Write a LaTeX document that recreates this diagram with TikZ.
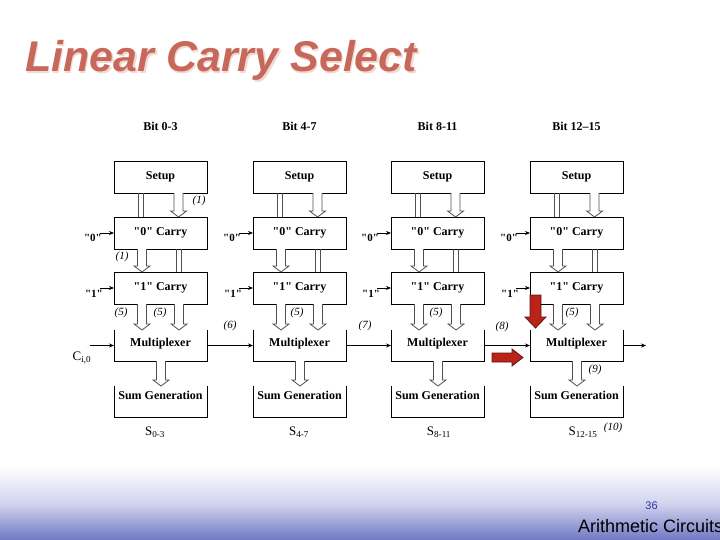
\documentclass[tikz,border=0pt]{standalone}
\usepackage{fontspec}
\setmainfont{Liberation Serif}
\newfontfamily\qfont{Liberation Serif}
\newfontfamily\arialf{Liberation Sans}
\usetikzlibrary{calc,arrows.meta}
\definecolor{titlec}{RGB}{200,104,90}
\definecolor{shadowc}{RGB}{240,218,212}
\definecolor{redarr}{RGB}{185,35,25}
\definecolor{redline}{RGB}{105,20,15}
\definecolor{footblue}{RGB}{112,120,196}
\definecolor{footmid}{RGB}{210,213,238}
\definecolor{numblue}{RGB}{50,50,170}
\definecolor{dgray}{RGB}{80,80,80}
\newcommand\qq{{\qfont\char34}}
\newcommand\harrow[3]{%
  \draw[harr] let \p1=(#1.south west), \p2=(#3.north) in
  (\x1+#2pt-4.5pt,\y1) -- (\x1+#2pt-4.5pt,\y2+6pt) -- (\x1+#2pt-8pt,\y2+6pt) --
  (\x1+#2pt,\y2) -- (\x1+#2pt+8pt,\y2+6pt) -- (\x1+#2pt+4.5pt,\y2+6pt) --
  (\x1+#2pt+4.5pt,\y1);}
\begin{document}
\begin{tikzpicture}[x=1pt,y=-1pt,
  box/.style={draw, line width=0.9pt, minimum width=93pt, minimum height=32pt, inner sep=0pt, outer sep=0pt},
  obox/.style={minimum width=93pt, minimum height=31pt, inner sep=0pt, outer sep=0pt},
  btxt/.style={font=\bfseries\fontsize{12}{12}\selectfont, inner sep=0pt},
  rtxt/.style={font=\fontsize{12}{12}\selectfont, inner sep=0pt},
  lbl/.style={font=\itshape\fontsize{11}{11}\selectfont, inner sep=0pt},
  inlbl/.style={font=\bfseries\fontsize{11}{11}\selectfont, inner sep=0pt},
  harr/.style={draw=dgray, fill=white, line width=0.8pt, line join=miter},
  dline/.style={draw=dgray, line width=0.8pt},
  thinarr/.style={line width=0.7pt, -{Stealth[length=5pt,width=4pt]}},
  redshape/.style={fill=redarr, draw=redline, line width=0.8pt, line join=miter},
]
\useasboundingbox (0,0) rectangle (720,540);
\fill[white] (0,0) rectangle (720,540);
% footer gradient
\shade[top color=white, bottom color=footblue, middle color=footmid] (0,466) rectangle (720,540);
\node[anchor=base, font=\arialf\fontsize{11}{11}\selectfont, text=numblue, inner sep=0pt] (pg) at (651.5,509) {36};
\node[anchor=base west, font=\arialf\fontsize{18}{18}\selectfont, inner sep=0pt] (ft) at (578,532) {Arithmetic Circuits};
% title
\node[anchor=base west, font=\arialf\bfseries\itshape\fontsize{43}{43}\selectfont, text=shadowc, inner sep=0pt] (tsh) at (26.5,73.5) {Linear Carry Select};
\node[anchor=base west, font=\arialf\bfseries\itshape\fontsize{43}{43}\selectfont, text=titlec, inner sep=0pt] (title) at (25,72) {Linear Carry Select};

% columns
\foreach \i/\L/\bit/\s/\sx in {1/114/{0-3}/{0-3}/155,2/253/{4-7}/{4-7}/299,3/391/{8-11}/{8-11}/439,4/530/{12--15}/{12-15}/583}{
  \node[btxt] (B\i) at (\L+46.5,126) {Bit \bit};
  \node[box,btxt] (S\i) at (\L+46.5,177) {Setup};
  \node[box,btxt] (Z\i) at (\L+46.5,233) {\qq0\qq{} Carry};
  \node[box,btxt] (O\i) at (\L+46.5,288) {\qq1\qq{} Carry};
  \node[obox] (M\i) at (\L+46.5,345.5) {};
  \draw[line width=0.9pt] (M\i.north west) -- (M\i.south west) -- (M\i.south east) -- (M\i.north east);
  \node[btxt] (MT\i) at ([yshift=2pt]M\i.center) {Multiplexer};
  \node[obox] (G\i) at (\L+46.5,401.5) {};
  \draw[line width=0.9pt] (G\i.north west) -- (G\i.south west) -- (G\i.south east) -- (G\i.north east);
  \node[btxt] (GT\i) at ([yshift=6pt]G\i.center) {Sum Generation};
  \node[font=\fontsize{13}{13}\selectfont, inner sep=0pt] (SL\i) at (\sx,432) {S\textsubscript{\s}};
  % setup -> 0 carry
  \draw[dline] ($(S\i.south west)+(24,0)$) -- ($(Z\i.north west)+(24,0)$);
  \draw[dline] ($(S\i.south west)+(29,0)$) -- ($(Z\i.north west)+(29,0)$);
  \harrow{S\i}{64.5}{Z\i}
  % 0 carry -> 1 carry
  \harrow{Z\i}{28}{O\i}
  \draw[dline] ($(Z\i.south west)+(62,0)$) -- ($(O\i.north west)+(62,0)$);
  \draw[dline] ($(Z\i.south west)+(67,0)$) -- ($(O\i.north west)+(67,0)$);
  % 1 carry -> mux
  \harrow{O\i}{28}{M\i}
  \harrow{O\i}{65}{M\i}
  % mux -> sum
  \harrow{M\i}{47}{G\i}
  % carry inputs
  \node[inlbl] (zl\i) at (\L-21,238) {\qq0\qq};
  \coordinate (zc\i) at (\L-14,233);
  \draw[thinarr] (zc\i) -- (Z\i.west);
  \node[inlbl] (ol\i) at (\L-20,294) {\qq1\qq};
  \coordinate (oc\i) at (\L-14,288);
  \draw[thinarr] (oc\i) -- (O\i.west);
}
% carry chain
\coordinate (ci) at (90,345.5);
\node[font=\fontsize{13}{13}\selectfont, inner sep=0pt] (cil) at (82,358) {C\textsubscript{i,0}};
\draw[thinarr] (ci) -- (M1.west);
\draw[thinarr] (M1.east) -- (M2.west);
\draw[thinarr] (M2.east) -- (M3.west);
\draw[thinarr] (M3.east) -- (M4.west);
\coordinate (cout) at (646,345.5);
\draw[thinarr] (M4.east) -- (cout);

% labels
\node[lbl] at (199,201) {(1)};
\node[lbl] at (122,257) {(1)};
\node[lbl] at (121,313) {(5)};
\node[lbl] at (160,313) {(5)};
\node[lbl] at (297,313) {(5)};
\node[lbl] at (436,313) {(5)};
\node[lbl] at (572,313) {(5)};
\node[lbl] at (230,326) {(6)};
\node[lbl] at (365,326) {(7)};
\node[lbl] at (502,327) {(8)};
\node[lbl] at (595,370) {(9)};
\node[lbl] at (613,428) {(10)};

% red pointers
\draw[redshape] (530,295) -- (541,295) -- (541,317) -- (546,317) -- (535.5,328) -- (525,317) -- (530,317) -- cycle;
\draw[redshape] (492,353) -- (512,353) -- (512,349) -- (523,357.5) -- (512,366) -- (512,362) -- (492,362) -- cycle;
\end{tikzpicture}
\end{document}
